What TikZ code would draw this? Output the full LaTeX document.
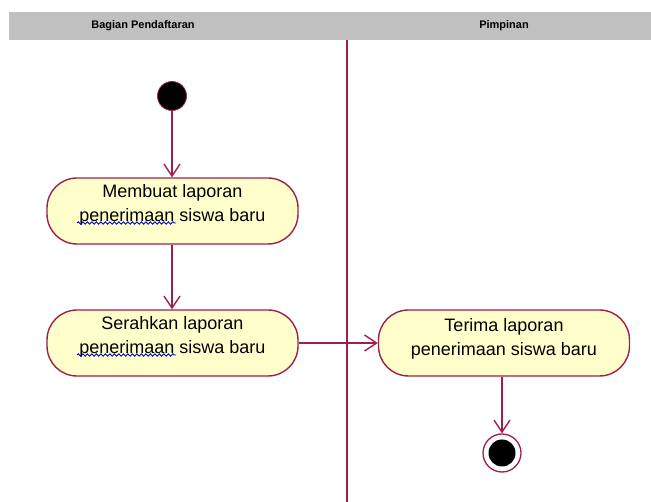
\documentclass[tikz,border=0pt]{standalone}
\usepackage{fontspec}
\setmainfont{Liberation Sans}
\usetikzlibrary{arrows.meta,decorations.pathmorphing}
\definecolor{umlline}{HTML}{9E1F4A}
\definecolor{umlfill}{HTML}{FFFFCC}
\definecolor{laneband}{HTML}{C0C0C0}
\tikzset{
  action/.style={draw=umlline, fill=umlfill, line width=1.4pt, rounded corners=30pt,
    minimum width=251pt, minimum height=66pt, inner sep=0pt},
  actiontext/.style={align=center, inner sep=0pt, font=\fontsize{18}{24}\selectfont},
  flow/.style={draw=umlline, line width=1.4pt, -{Straight Barb[length=12pt,width=16pt,line width=1.4pt]}},
  lanetitle/.style={font=\fontsize{11}{13}\selectfont\bfseries},
  squiggle/.style={draw=blue!80!black, line width=0.9pt,
    decorate, decoration={snake, amplitude=1.2pt, segment length=4.5pt}}
}
\begin{document}
\begin{tikzpicture}[x=1pt,y=-1pt]
  \useasboundingbox (0,0) rectangle (651,502);
  % swimlane header and divider
  \fill[laneband] (9,12) rectangle (651,40);
  \node[lanetitle] (laneA) at (143,26) {Bagian Pendaftaran};
  \node[lanetitle] (laneB) at (504,26) {Pimpinan};
  \draw[umlline, line width=1.4pt] (347,40) -- (347,502);
  % initial state
  \node[circle, fill=black, draw=umlline, line width=0.8pt, minimum size=29pt, inner sep=0pt] (start) at (172,96) {};
  % actions
  \node[action] (a1) at (172.5,211) {};
  \node[action] (a2) at (172.5,343) {};
  \node[action] (a3) at (504,343) {};
  \node[actiontext] (a1t) at (172.5,205) {Membuat laporan\\penerimaan siswa baru};
  \node[actiontext] (a2t) at (172.5,337) {Serahkan laporan\\penerimaan siswa baru};
  \node[actiontext] (a3t) at (504,339) {Terima laporan\\penerimaan siswa baru};
  % spelling marks under the first word of the second lines
  \draw[squiggle] (77,223) -- (176,223);
  \draw[squiggle] (77,355) -- (176,355);
  % final state
  \node[circle, draw=umlline, line width=1.3pt, fill=white, minimum size=38pt, inner sep=0pt] (stop) at (502,453) {};
  \node[circle, fill=black, minimum size=27pt, inner sep=0pt] (stopdot) at (stop) {};
  % control flows
  \draw[flow] (start) -- (start |- a1.north);
  \draw[flow] (a1.south -| start) -- (start |- a2.north);
  \draw[flow] (a2) -- (a3);
  \draw[flow] (a3.south -| stop) -- (stop);
\end{tikzpicture}
\end{document}
